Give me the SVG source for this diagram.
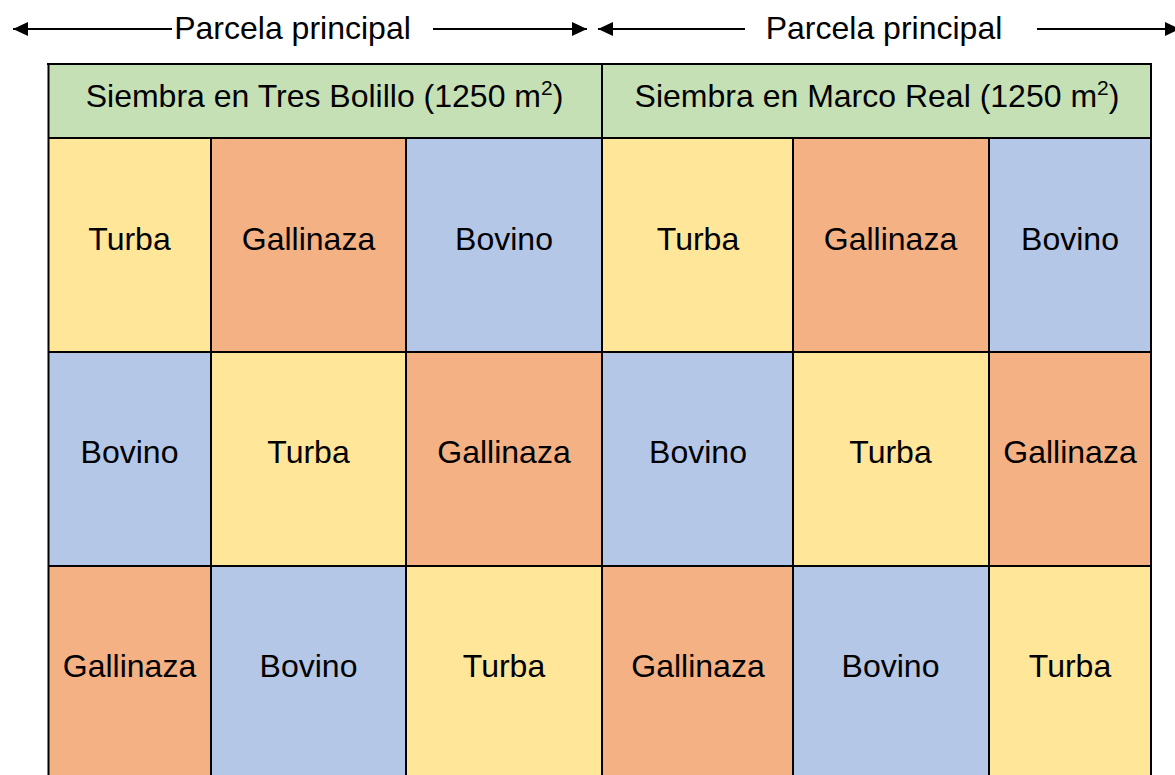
<svg xmlns="http://www.w3.org/2000/svg" width="1175" height="775" viewBox="0 0 1175 775">
<style>
  text { font-family: "Liberation Sans", Arial, sans-serif; font-size: 32px; fill: #000; text-anchor: middle; }
  .g { fill: #C5E0B4; }
  .y { fill: #FFE699; }
  .o { fill: #F4B183; }
  .b { fill: #B4C7E7; }
  .grid { stroke: #000; stroke-width: 2; fill: none; }
  .arr { stroke: #000; stroke-width: 2; fill: none; }
</style>
<defs>
  <marker id="ah" markerUnits="userSpaceOnUse" markerWidth="16" markerHeight="14" refX="15" refY="7" orient="auto">
    <path d="M0,0 L15,7 L0,14 Z" fill="#000"/>
  </marker>
</defs>
<rect width="1175" height="775" fill="#fff"/>

<g id="connectors">
  <line class="arr" x1="172" y1="29" x2="13" y2="29" marker-end="url(#ah)"/>
  <line class="arr" x1="433" y1="29" x2="587" y2="29" marker-end="url(#ah)"/>
  <line class="arr" x1="745" y1="29" x2="598" y2="29" marker-end="url(#ah)"/>
  <line class="arr" x1="1037" y1="29" x2="1180" y2="29" marker-end="url(#ah)"/>
</g>

<g id="label-left"><text x="292.5" y="39">Parcela principal</text></g>
<g id="label-right"><text x="884" y="39">Parcela principal</text></g>

<g id="header-left">
  <rect class="g" x="48" y="64" width="554" height="74"/>
  <text x="324.5" y="107">Siembra en Tres Bolillo (1250 m<tspan font-size="21" dy="-12">2</tspan><tspan dy="12">)</tspan></text>
</g>
<g id="header-right">
  <rect class="g" x="602" y="64" width="549" height="74"/>
  <text x="877" y="107">Siembra en Marco Real (1250 m<tspan font-size="21" dy="-12">2</tspan><tspan dy="12">)</tspan></text>
</g>

<!-- Left half -->
<g id="L-r1c1"><rect class="y" x="48" y="138" width="163" height="214"/><text x="129.5" y="249.5">Turba</text></g>
<g id="L-r1c2"><rect class="o" x="211" y="138" width="195" height="214"/><text x="308.5" y="249.5">Gallinaza</text></g>
<g id="L-r1c3"><rect class="b" x="406" y="138" width="196" height="214"/><text x="504" y="249.5">Bovino</text></g>
<g id="L-r2c1"><rect class="b" x="48" y="352" width="163" height="214"/><text x="129.5" y="463">Bovino</text></g>
<g id="L-r2c2"><rect class="y" x="211" y="352" width="195" height="214"/><text x="308.5" y="463">Turba</text></g>
<g id="L-r2c3"><rect class="o" x="406" y="352" width="196" height="214"/><text x="504" y="463">Gallinaza</text></g>
<g id="L-r3c1"><rect class="o" x="48" y="566" width="163" height="209"/><text x="129.5" y="677">Gallinaza</text></g>
<g id="L-r3c2"><rect class="b" x="211" y="566" width="195" height="209"/><text x="308.5" y="677">Bovino</text></g>
<g id="L-r3c3"><rect class="y" x="406" y="566" width="196" height="209"/><text x="504" y="677">Turba</text></g>

<!-- Right half -->
<g id="R-r1c1"><rect class="y" x="602" y="138" width="191" height="214"/><text x="698" y="249.5">Turba</text></g>
<g id="R-r1c2"><rect class="o" x="793" y="138" width="196" height="214"/><text x="890.5" y="249.5">Gallinaza</text></g>
<g id="R-r1c3"><rect class="b" x="989" y="138" width="162" height="214"/><text x="1070" y="249.5">Bovino</text></g>
<g id="R-r2c1"><rect class="b" x="602" y="352" width="191" height="214"/><text x="698" y="463">Bovino</text></g>
<g id="R-r2c2"><rect class="y" x="793" y="352" width="196" height="214"/><text x="890.5" y="463">Turba</text></g>
<g id="R-r2c3"><rect class="o" x="989" y="352" width="162" height="214"/><text x="1070" y="463">Gallinaza</text></g>
<g id="R-r3c1"><rect class="o" x="602" y="566" width="191" height="209"/><text x="698" y="677">Gallinaza</text></g>
<g id="R-r3c2"><rect class="b" x="793" y="566" width="196" height="209"/><text x="890.5" y="677">Bovino</text></g>
<g id="R-r3c3"><rect class="y" x="989" y="566" width="162" height="209"/><text x="1070" y="677">Turba</text></g>

<g id="gridlines">
  <line class="grid" x1="47" y1="64" x2="1152" y2="64"/>
  <line class="grid" x1="48" y1="138" x2="1151" y2="138"/>
  <line class="grid" x1="48" y1="352" x2="1151" y2="352"/>
  <line class="grid" x1="48" y1="566" x2="1151" y2="566"/>
  <line class="grid" x1="48.5" y1="63" x2="48.5" y2="775" stroke-width="2.5"/>
  <line class="grid" x1="1151" y1="63" x2="1151" y2="775" stroke-width="2.5"/>
  <line class="grid" x1="211" y1="138" x2="211" y2="775"/>
  <line class="grid" x1="406" y1="138" x2="406" y2="775"/>
  <line class="grid" x1="793" y1="138" x2="793" y2="775"/>
  <line class="grid" x1="989" y1="138" x2="989" y2="775"/>
  <line class="grid" x1="602" y1="63" x2="602" y2="775" stroke-width="5"/>
</g>
</svg>
